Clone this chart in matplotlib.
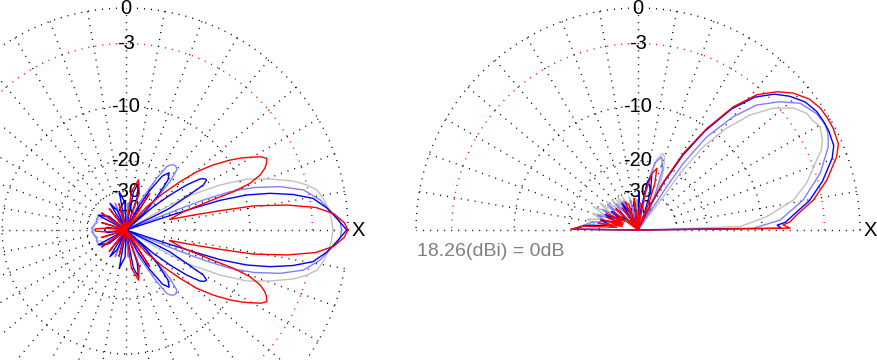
import numpy as np
import matplotlib.pyplot as plt

# ARRL-style log scale rings and their labels (dB)
ring_db = [0, -3, -10, -20, -30]
label_db = [0, -3, -10, -20, -30, -40]
label_txt = ["0", "-3", "-10", "-20", "-30", "-40"]
gain_note = "18.26(dBi) = 0dB"

# azimuth cut (left), upper half 0..180 deg, pattern is symmetric
az_red_deg = [0, 2, 4.5, 6.8, 8.8, 10.7, 11.6, 12.5, 13.5, 17.7, 18.7, 19.3, 19.6, 20.6, 22.3, 24, 25.4, 27.0,
              28.4, 29.8, 31.8, 33.9, 36.7, 39.5, 41.8, 44.5, 48.4, 51, 57, 62, 70, 76, 82, 88, 105, 115, 128,
              137, 145, 155, 163, 170, 175, 178, 180]
az_red_db = [0, -0.3, -1.1, -2.6, -5.3, -9.2, -14.4, -20, -27.5, -22.4, -17.9, -14.4, -11.5, -8.9, -7.3, -6.5, -6.1, -5.85,
             -6.3, -7.1, -8.3, -9.8, -12.2, -15.2, -19.2, -24.8, -33.7, -100, -28, -100, -30, -25, -30, -100, -36, -100,
             -36, -100, -34.5, -100, -37, -100, -40, -34, -33.8]

az_blue_deg = [0, 2.7, 6.2, 9.6, 12, 14.3, 16.2, 17.5, 17.9, 18.2, 18.6, 25.5, 26, 26.5, 28.8, 30.2, 31.8, 33.2,
               34.6, 36.6, 38.5, 40.5, 41.5, 44, 47, 50, 53, 56, 59, 62, 66, 71, 75, 79, 84, 92, 100, 108,
               114, 121, 130, 142, 152, 162, 172, 180]
az_blue_db = [-0.1, -0.75, -1.6, -2.7, -4.5, -6.9, -9.8, -13.9, -19.6, -27, -100, -100, -34, -26, -20, -15.6, -14.6, -14.8,
              -15.5, -18.5, -23.6, -31.3, -100, -38, -27, -21, -19.4, -21, -27, -38, -100, -32, -26, -30, -100, -36, -30,
              -100, -40, -33.7, -100, -40, -33.5, -100, -42, -40]

az_lblue_deg = [0, 2, 4, 6, 8.8, 12.7, 15.7, 18.4, 20.2, 21.2, 21.5, 22, 40, 41, 46, 47.7, 49.8, 52, 54, 56,
                57.3, 59.3, 63.7, 67, 85, 100, 112, 125, 140, 150, 160, 165, 172, 177, 180]
az_lblue_db = [-0.5, -0.6, -1.0, -1.5, -2.1, -3.4, -5.6, -8.6, -11.9, -16.9, -23, -100, -100, -39, -27.8, -21, -17.8, -17.3,
               -17.4, -17.9, -18.6, -22.4, -33.5, -100, -36, -100, -35, -100, -40, -34, -33.5, -34.5, -33, -32, -32.5]

az_gray_deg = [0, 3, 6, 9, 11.8, 14, 16.3, 19.5, 22.9, 25.6, 28.8, 29.5, 30.5, 45, 52, 60, 95, 105, 115, 140,
               150, 160, 170, 180]
az_gray_db = [-1.2, -1.3, -1.5, -1.8, -2.2, -3.0, -4.15, -6.4, -9.05, -13, -20, -28, -100, -100, -38, -100, -100, -38,
              -100, -100, -38, -34, -33, -33]

# elevation cut (right), 0..180 deg
el_red_deg = [0, 0.7, 2, 3, 5.4, 9.7, 14.8, 20.3, 23.3, 27.5, 30.3, 33.6, 37.4, 41.4, 44.9, 48.7, 52.3, 55.9,
              59.4, 62, 64, 66, 68, 70, 73, 76, 79, 82, 86, 90, 97, 103, 110, 114.7, 119, 125, 130, 136, 140,
              143.5, 147, 151.9, 155, 158, 161, 164, 167, 170, 173, 176, 179.3, 180]
el_red_db = [-100, -6.5, -7.3, -6.5, -5.7, -3.8, -2.2, -0.8, -0.3, -0.15, -0.15, -0.2, -0.5, -1.2, -2.15, -3.6, -6.1, -10.2,
             -15.7, -24, -35, -100, -35, -26, -21.2, -23, -30, -100, -36, -100, -33.3, -100, -36, -33.7, -100, -36, -100,
             -34, -100, -34, -45, -31.4, -45, -32, -45, -30, -45, -29, -40, -24, -20.5, -100]

el_blue_deg = [0, 0.7, 2, 3, 5.4, 9.7, 14.8, 20.3, 23.3, 27.5, 30.3, 33.6, 37.4, 41.4, 44.9, 48.7, 52.3, 55.9,
               59, 61.5, 63.5, 65.5, 69, 72, 76, 79, 82, 85, 88, 92, 98, 103, 110, 121.4, 128, 135, 140, 145,
               150, 155, 160, 165, 170, 175, 179.3, 180]
el_blue_db = [-100, -7.5, -8, -7, -6.1, -4.2, -2.6, -1.2, -0.7, -0.55, -0.55, -0.6, -0.9, -1.6, -2.45, -3.9, -6.4, -10.6,
              -16, -24, -35, -100, -45, -29, -23.4, -26, -40, -100, -30, -100, -35, -100, -45, -33.7, -100, -36, -45, -33,
              -42, -31, -40, -30, -36, -25, -20.8, -100]

el_lblue_deg = [0, 0.9, 4, 10.3, 17.3, 23.6, 26.9, 29.7, 33.1, 38, 42.1, 46.5, 50, 53.6, 55.8, 56.5, 56.3, 57,
                60, 64, 68, 72, 76, 79, 83, 90, 96, 104, 110, 118, 124, 130, 135, 140, 145, 150, 155, 160, 165,
                170, 175, 179.3, 180]
el_lblue_db = [-100, -11.2, -7.6, -4.8, -2.6, -1.15, -0.7, -0.55, -0.7, -1.3, -2.55, -4.35, -7, -11.2, -17.4, -24.9, -33,
               -100, -40, -30, -21, -18.2, -20, -28, -100, -34, -100, -34, -100, -33, -45, -32, -42, -30, -38, -29, -36,
               -28, -33, -27, -24, -21.5, -100]

el_gray_deg = [0, 1.9, 5.9, 10.9, 15.5, 21.4, 23.5, 26, 29.6, 32.3, 34.7, 38.1, 42, 45.8, 48.9, 51.9, 53.5, 52.8,
               55, 62, 66, 70, 72.2, 75, 78, 82, 88, 95, 100, 105, 110, 115, 118, 121, 124, 125.4, 128, 131, 134,
               137.9, 141, 144.9, 148, 152.5, 156, 160, 164, 168, 172, 176, 179.3, 180]
el_gray_db = [-100, -13.3, -9.3, -5.8, -4.1, -2.5, -1.8, -1.35, -1.0, -1.3, -1.35, -2.0, -3.4, -5.6, -8.5, -12.7, -19.7,
              -28.7, -100, -30, -22, -18, -17.4, -19, -26, -100, -40, -33, -45, -32, -40, -31, -38, -30, -36, -30.9, -36,
              -29.5, -35, -28.5, -34, -26.9, -33, -25.5, -31, -26, -30, -25, -28, -23, -22, -100]

colors = {"gray": "#c0c0c0", "lblue": "#8080ff", "blue": "#0000ff", "red": "#ff0000"}


def arrl(db):
    # each 2 dB step shrinks the radius to 0.89
    return np.power(0.89, -np.asarray(db, dtype=float) / 2)


def arrl_inv(r):
    return -2 * np.log(np.maximum(np.asarray(r, dtype=float), 1e-12)) / np.log(0.89)


W, H, R = 878, 360, 222
fig = plt.figure(figsize=(W / 100, H / 100), dpi=100)
font = ["Liberation Sans", "DejaVu Sans"]
dots = dict(lw=1.0, linestyle=(0, (0.75, 4.3)), clip_on=False, zorder=1)


def make_axes(cx, cy):
    ax = fig.add_axes([(cx - R) / W, (H - cy - R) / H, 2 * R / W, 2 * R / H], projection="polar")
    ax.set_rscale("function", functions=(arrl, arrl_inv))
    ax.set_rlim(-200, 0)
    ax.set_xticks([])
    ax.set_yticks([])
    ax.grid(False)
    ax.spines["polar"].set_visible(False)
    ax.patch.set_visible(False)
    return ax


def draw_grid(ax, a0, a1):
    th = np.linspace(np.deg2rad(a0), np.deg2rad(a1), 721)
    for db in ring_db:
        ax.plot(th, np.full_like(th, db), color="red" if db == -3 else "black", **dots)
    for a in range(a0, a1 + 1, 10):
        ax.plot([np.deg2rad(a)] * 2, [-30, 0], color="black", **dots)
    for db, t in zip(label_db, label_txt):
        ax.text(np.pi / 2, db, t, ha="center", va="center", fontsize=14.5, family=font, zorder=1.5)
    ax.text(0, 0.8, "X", ha="center", va="center", fontsize=14.5, family=font)


def mirror(deg, db):
    deg = np.asarray(deg, dtype=float)
    db = np.asarray(db, dtype=float)
    return np.deg2rad(np.concatenate([deg, -deg[::-1]])), np.concatenate([db, db[::-1]])


# left: azimuth
ax1 = make_axes(126, 230)
draw_grid(ax1, 0, 350)
for name, deg, db in [("gray", az_gray_deg, az_gray_db), ("lblue", az_lblue_deg, az_lblue_db),
                      ("blue", az_blue_deg, az_blue_db), ("red", az_red_deg, az_red_db)]:
    th, r = mirror(deg, db)
    ax1.plot(th, r, color=colors[name], lw=1.0, clip_on=False, zorder=2)

# right: elevation
ax2 = make_axes(638, 230)
draw_grid(ax2, 0, 180)
for name, deg, db in [("gray", el_gray_deg, el_gray_db), ("lblue", el_lblue_deg, el_lblue_db),
                      ("blue", el_blue_deg, el_blue_db), ("red", el_red_deg, el_red_db)]:
    ax2.plot(np.deg2rad(deg), db, color=colors[name], lw=1.0, clip_on=False, zorder=2)

fig.text(417 / W, (H - 252) / H, gain_note, ha="left", va="center", fontsize=14, color="#808080", family=font)

fig.savefig("out.png", dpi=100)
